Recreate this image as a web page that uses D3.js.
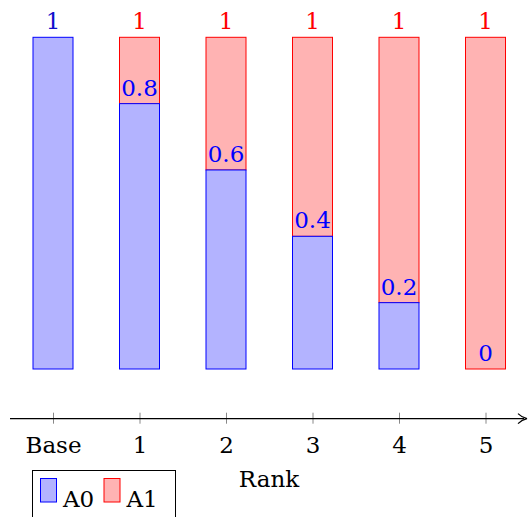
<!DOCTYPE html>
<html><head><meta charset="utf-8">
<script src="https://cdn.jsdelivr.net/npm/d3@7"></script>
<style>body{margin:0;background:#fff}svg{display:block}</style>
</head><body>
<svg id="c" width="528" height="517"></svg>
<script>
const categories = ["Base","1","2","3","4","5"];
const seriesNames = ["A0","A1"];
const a0 = [1, 0.8, 0.6, 0.4, 0.2, 0];
const a1 = [0, 0.2, 0.4, 0.6, 0.8, 1];
const totals = [1, 1, 1, 1, 1, 1];

const FONT = '"DejaVu Serif"';
const FS = 23;
const svg = d3.select("#c");
const x = d3.scalePoint().domain(categories).range([53, 485.5]);
const y = d3.scaleLinear().domain([0, 1]).range([369, 37.3]);
const bw = 40;
const blue = "#0000ff", blueFill = "#b3b3ff", red = "#ff0000", redFill = "#ffb3b3";

const rows = categories.map((c, i) => ({c, a0: a0[i], a1: a1[i], t: totals[i], i}));

svg.append("g").selectAll("rect").data(rows.filter(d => d.a1 > 0)).join("rect")
  .attr("x", d => x(d.c) - bw/2).attr("width", bw)
  .attr("y", d => y(d.a0 + d.a1)).attr("height", d => y(d.a0) - y(d.a0 + d.a1))
  .attr("fill", redFill).attr("stroke", red).attr("stroke-width", 1);

svg.append("g").selectAll("rect").data(rows).join("rect")
  .attr("x", d => x(d.c) - bw/2).attr("width", bw)
  .attr("y", d => y(d.a0)).attr("height", d => y(0) - y(d.a0))
  .attr("fill", blueFill).attr("stroke", d => d.a0 > 0 ? blue : "#8000a0").attr("stroke-width", 1);

function label(sel) {
  return sel.attr("font-size", FS).style("font-family", FONT);
}

svg.append("g").selectAll("text").data(rows.filter(d => d.i > 0)).join("text")
  .call(label)
  .attr("x", d => x(d.c)).attr("y", d => y(d.a0) - 8)
  .attr("text-anchor", "middle").attr("fill", blue)
  .text(d => d3.format("~g")(d.a0));

svg.append("g").selectAll("text").data(rows).join("text")
  .call(label)
  .attr("x", d => x(d.c)).attr("y", d => y(d.t) - 8)
  .attr("text-anchor", "middle")
  .attr("fill", d => d.a1 > 0 ? red : "#1010cc")
  .text(d => d3.format("~g")(d.t));

const axisY = 418.7;
const ax = svg.append("g").attr("transform", `translate(0,${axisY})`)
  .call(d3.axisBottom(x).tickSize(5).tickPadding(0));
ax.select(".domain").remove();
ax.selectAll(".tick line").attr("y1", -6).attr("y2", 5).attr("stroke", "#888");
ax.selectAll(".tick text").call(label).attr("fill", "#000")
  .attr("dy", null).attr("y", 34);
svg.append("line").attr("x1", 10).attr("x2", 524).attr("y1", axisY).attr("y2", axisY)
  .attr("stroke", "#000").attr("stroke-width", 1.2);
svg.append("path").attr("d", `M518,${axisY-5} Q522,${axisY-1} 527,${axisY} Q522,${axisY+1} 518,${axisY+5}`)
  .attr("fill", "none").attr("stroke", "#000").attr("stroke-width", 1.2);

svg.append("text").call(label).attr("x", 269).attr("y", 487)
  .attr("text-anchor", "middle").attr("fill", "#000").text("Rank");

const lg = svg.append("g");
lg.append("rect").attr("x", 32.5).attr("y", 470.5).attr("width", 143).attr("height", 60)
  .attr("fill", "#fff").attr("stroke", "#000").attr("stroke-width", 1);
const legendItems = [{n: seriesNames[0], f: blueFill, s: blue, x: 40.5}, {n: seriesNames[1], f: redFill, s: red, x: 104}];
lg.selectAll("rect.sw").data(legendItems).join("rect").attr("class", "sw")
  .attr("x", d => d.x).attr("y", 478.5).attr("width", 16).attr("height", 23.5)
  .attr("fill", d => d.f).attr("stroke", d => d.s).attr("stroke-width", 1);
lg.selectAll("text").data(legendItems).join("text").call(label)
  .attr("x", d => d.x + 22.5).attr("y", 507).attr("fill", "#000")
  .text(d => d.n);
</script>
</body></html>
